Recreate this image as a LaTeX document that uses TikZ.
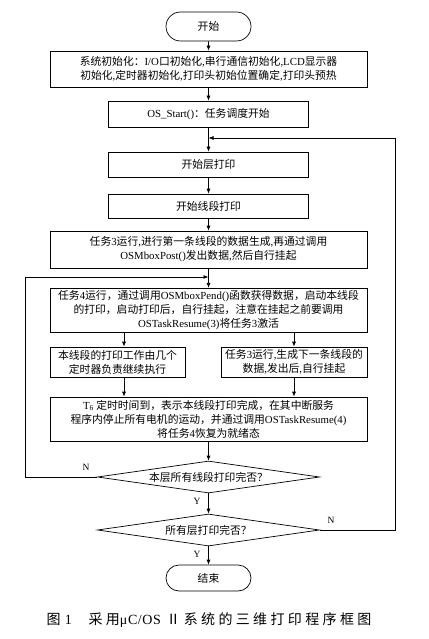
\documentclass[tikz,border=0pt]{standalone}
\usepackage{fontspec}
\setmainfont{Noto Sans CJK SC}
\newfontfamily\latn{Liberation Serif}
\newfontfamily\capfont[LetterSpace=24]{Noto Sans CJK SC}
\newfontfamily\caplat[LetterSpace=4]{Liberation Serif}
\newcommand\lt[1]{{\latn #1}}
\usetikzlibrary{shapes.geometric,shapes.misc,arrows.meta}
\begin{document}
\begin{tikzpicture}[x=1pt,y=-1pt,
  font=\fontsize{10.8}{14}\selectfont,
  line width=0.7pt,
  box/.style={draw, inner sep=0pt, align=center},
  term/.style={draw, rounded rectangle, inner sep=0pt, minimum width=85pt},
  dec/.style={draw, diamond, aspect=6.9, inner sep=0pt},
  arr/.style={-{Latex[length=5pt,width=4pt]}},
  lbl/.style={font=\latn\fontsize{9.5}{11}\selectfont}]
\useasboundingbox (0,0) rectangle (428,639);
\node[term, minimum height=29pt] (start) at (208.5,26.5) {开始};
\node[box, minimum width=317pt, minimum height=36pt] (b1) at (208.5,69) {系统初始化：\lt{I/O}口初始化\lt{,}串行通信初始化\lt{,LCD}显示器\\初始化\lt{,}定时器初始化\lt{,}打印头初始位置确定\lt{,}打印头预热};
\node[box, minimum width=200pt, minimum height=26pt] (b2) at (208.5,114) {\lt{OS\_Start()}：任务调度开始};
\node[box, minimum width=200pt, minimum height=25pt] (b3) at (208.5,164.5) {开始层打印};
\node[box, minimum width=200pt, minimum height=24pt] (b4) at (208.5,206) {开始线段打印};
\node[box, minimum width=317pt, minimum height=37pt] (b5) at (208.5,249.5) {任务\lt{3}运行\lt{,}进行第一条线段的数据生成\lt{,}再通过调用\\\lt{OSMboxPost()}发出数据\lt{,}然后自行挂起};
\node[box, minimum width=317pt, minimum height=44.5pt] (b6) at (208.5,310.5) {任务\lt{4}运行，通过调用\lt{OSMboxPend()}函数获得数据，启动本线段\\的打印，启动打印后，自行挂起，注意在挂起之前要调用\\\lt{OSTaskResume(3)}将任务\lt{3}激活};
\node[box, minimum width=135pt, minimum height=30pt] (b7) at (117.5,362) {本线段的打印工作由几个\\定时器负责继续执行};
\node[box, minimum width=146pt, minimum height=30pt] (b8) at (294,362) {任务\lt{3}运行\lt{,}生成下一条线段的\\数据\lt{,}发出后\lt{,}自行挂起};
\node[box, minimum width=317pt, minimum height=44pt] (b9) at (208.5,419) {\lt{T\textsubscript{6}} 定时时间到，表示本线段打印完成，在其中断服务\\程序内停止所有电机的运动，并通过调用\lt{OSTaskResume(4)}\\将任务\lt{4}恢复为就绪态};
\node[dec, minimum width=222pt, minimum height=32pt] (d1) at (208.5,477) {本层所有线段打印完否？};
\node[dec, minimum width=222pt, minimum height=32pt] (d2) at (208.5,530) {所有层打印完否？};
\node[term, minimum height=26pt] (end) at (208.5,578) {结束};
\coordinate (xl) at (124,0);
\coordinate (xr) at (294,0);
\coordinate (L) at (25,0);
\coordinate (R) at (395,0);
\coordinate (j1) at (208.5,277);
\coordinate (j2) at (208.5,138);
\draw[arr] (start) -- (b1);
\draw[arr] (b1) -- (b2);
\draw[arr] (b2) -- (b3);
\draw[arr] (b3) -- (b4);
\draw[arr] (b4) -- (b5);
\draw[arr] (b5) -- (b6);
\draw[arr] (b6.south -| xl) -- (b7.north -| xl);
\draw[arr] (b6.south -| xr) -- (b8.north -| xr);
\draw[arr] (b7.south -| xl) -- (b9.north -| xl);
\draw[arr] (b8.south -| xr) -- (b9.north -| xr);
\draw[arr] (b9) -- (d1);
\draw[arr] (d1) -- (d2);
\draw[arr] (d2) -- (end);
\draw[arr] (d1.west) -- (d1.west -| L) -- (j1 -| L) -- (j1);
\draw[arr] (d2.east) -- (d2.east -| R) -- (j2 -| R) -- (j2);
\node[lbl] (n1) at (86,467) {N};
\node[lbl] (y1) at (197,501) {Y};
\node[lbl] (n2) at (331,520) {N};
\node[lbl] (y2) at (197,554) {Y};
\node (cap) at (209,620) {\fontsize{14}{16}\selectfont\capfont 图\hspace{0.3em}{\caplat 1}\hspace{1.2em}采用{\caplat μC/OS}\hspace{0.4em}Ⅱ系统的三维打印程序框图};
\end{tikzpicture}
\end{document}
